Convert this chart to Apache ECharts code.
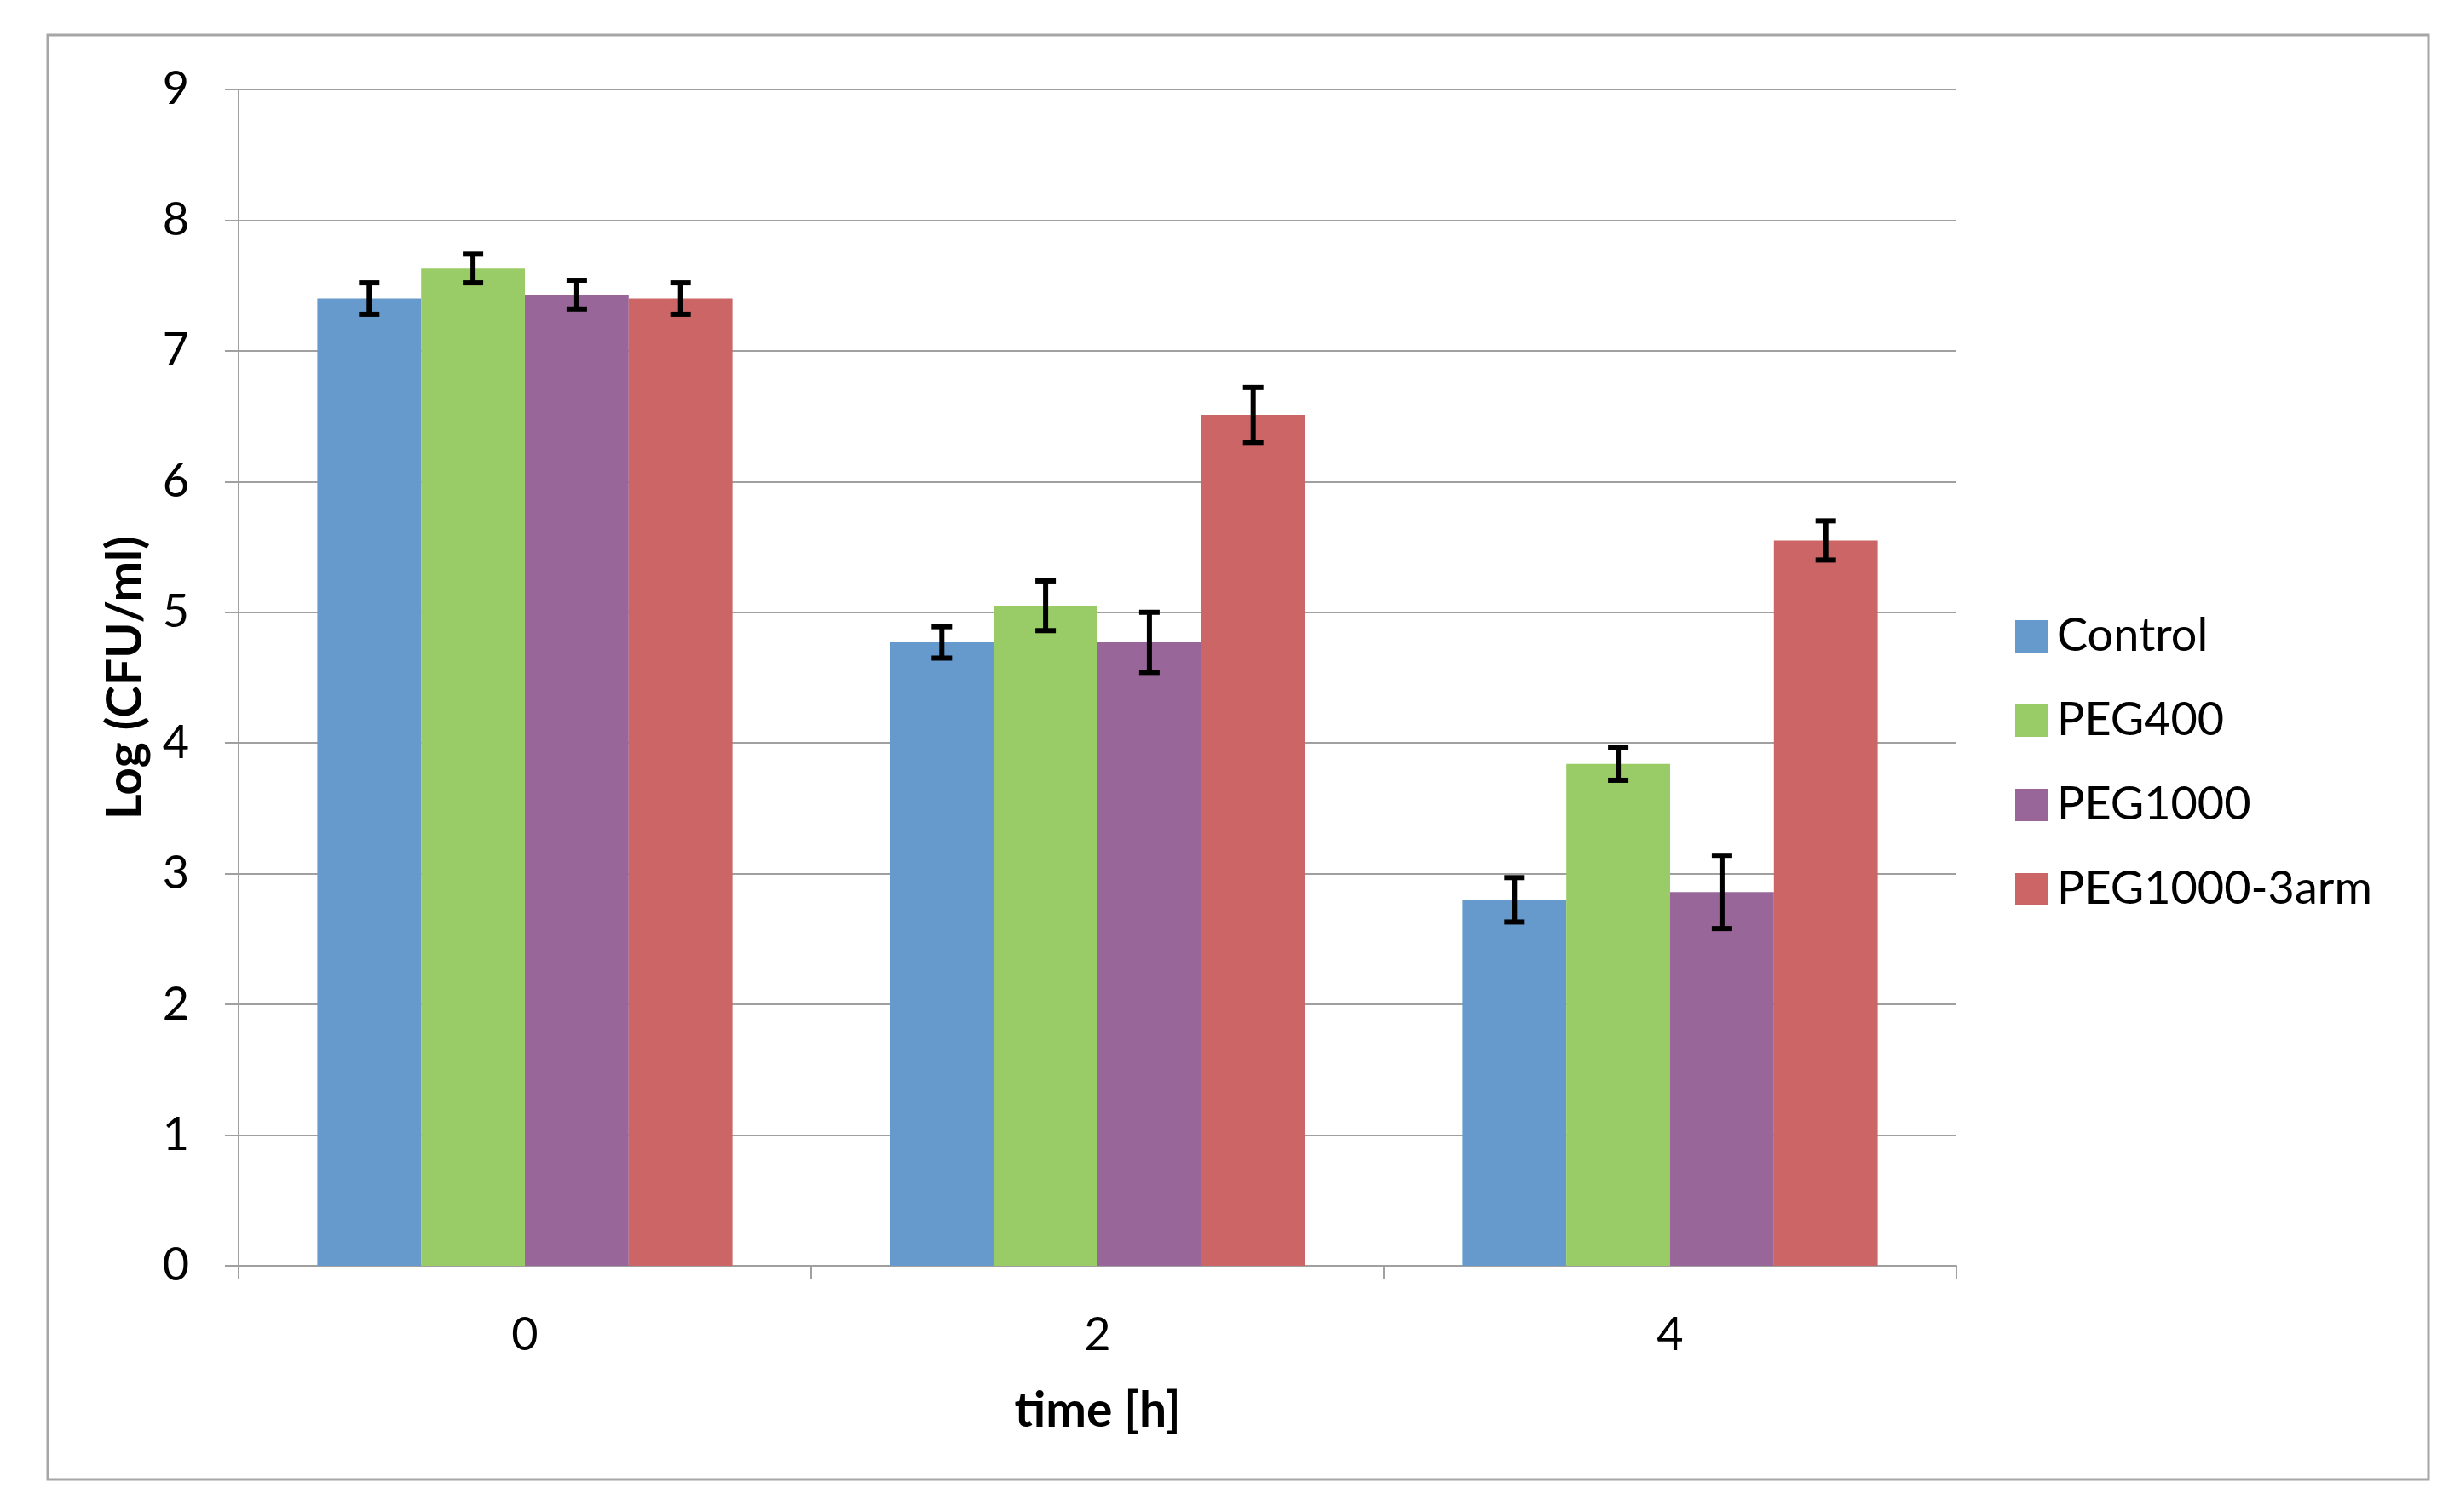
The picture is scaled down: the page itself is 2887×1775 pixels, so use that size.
<!DOCTYPE html>
<html>
<head>
<meta charset="utf-8">
<script src="https://cdn.jsdelivr.net/npm/echarts@6/dist/echarts.min.js"></script>
<style>
html,body{margin:0;padding:0;background:#fff;}
#chart{width:2887px;height:1775px;}
</style>
</head>
<body>
<div id="chart"></div>
<script>
// ---- data ----
var categories = ['0', '2', '4'];
var seriesNames = ['Control', 'PEG400', 'PEG1000', 'PEG1000-3arm'];
var control      = [7.40, 4.77, 2.80];
var peg400       = [7.63, 5.05, 3.84];
var peg1000      = [7.43, 4.77, 2.86];
var peg1000_3arm = [7.40, 6.51, 5.55];
var errControl      = [0.12, 0.12, 0.17];
var errPeg400       = [0.11, 0.19, 0.125];
var errPeg1000      = [0.11, 0.23, 0.28];
var errPeg1000_3arm = [0.12, 0.21, 0.15];
var yTicks = [0, 1, 2, 3, 4, 5, 6, 7, 8, 9];

var values = [control, peg400, peg1000, peg1000_3arm];
var errors = [errControl, errPeg400, errPeg1000, errPeg1000_3arm];
var colors = ['#6699cc', '#99cc66', '#996699', '#cc6666'];
var FONT = 'Lato';
var CAT_GAP = 0.275;

var chart = echarts.init(document.getElementById('chart'));

var series = [];
seriesNames.forEach(function (name, i) {
  series.push({
    name: name,
    type: 'bar',
    data: values[i],
    barGap: '0%',
    barCategoryGap: (CAT_GAP * 100) + '%',
    itemStyle: { color: colors[i] },
    emphasis: { disabled: true },
    z: 2
  });
});
seriesNames.forEach(function (name, i) {
  var d = values[i].map(function (v, k) { return [k, v, errors[i][k]]; });
  series.push({
    type: 'custom',
    name: name + ' error',
    data: d,
    z: 5,
    silent: true,
    renderItem: function (params, api) {
      var cat = api.value(0), v = api.value(1), e = api.value(2);
      var band = api.size([1, 0])[0];
      var groupW = band * (1 - CAT_GAP);
      var barW = groupW / seriesNames.length;
      var center = api.coord([cat, v]);
      var x = center[0] - groupW / 2 + barW * (i + 0.5);
      var top = api.coord([cat, v + e])[1];
      var bot = api.coord([cat, v - e])[1];
      var cap = 12;
      var st = { stroke: '#000', lineWidth: 6 };
      return {
        type: 'group',
        children: [
          { type: 'line', shape: { x1: x, y1: top, x2: x, y2: bot }, style: st },
          { type: 'line', shape: { x1: x - cap, y1: top, x2: x + cap, y2: top }, style: st },
          { type: 'line', shape: { x1: x - cap, y1: bot, x2: x + cap, y2: bot }, style: st }
        ]
      };
    }
  });
});

chart.setOption({
  animation: false,
  backgroundColor: '#ffffff',
  textStyle: { fontFamily: FONT },
  graphic: [{
    type: 'rect',
    shape: { x: 56, y: 41, width: 2794, height: 1696 },
    style: { fill: 'none', stroke: '#a6a6a6', lineWidth: 3 },
    silent: true,
    z: -1
  }],
  grid: { left: 280, right: 591, top: 105, bottom: 289 },
  legend: {
    orient: 'vertical',
    left: 2360,
    top: 714,
    data: seriesNames,
    icon: 'rect',
    itemWidth: 38,
    itemHeight: 38,
    itemGap: 43,
    selectedMode: false,
    textStyle: { fontFamily: FONT, fontSize: 54, color: '#000', lineHeight: 56, padding: [0, 0, 0, 6] }
  },
  xAxis: {
    type: 'category',
    data: categories,
    name: 'time [h]',
    nameLocation: 'middle',
    nameGap: 142,
    nameTextStyle: { fontFamily: FONT, fontSize: 57, fontWeight: 'bold', color: '#000' },
    axisLine: { lineStyle: { color: '#a0a0a0', width: 2 } },
    axisTick: { show: true, length: 16, alignWithLabel: false, lineStyle: { color: '#a0a0a0', width: 2 } },
    axisLabel: { fontFamily: FONT, fontSize: 54, color: '#000', margin: 55 },
    splitLine: { show: false }
  },
  yAxis: {
    type: 'value',
    min: yTicks[0],
    max: yTicks[yTicks.length - 1],
    interval: 1,
    name: 'Log (CFU/ml)',
    nameLocation: 'middle',
    nameGap: 104,
    nameTextStyle: { fontFamily: FONT, fontSize: 57, fontWeight: 'bold', color: '#000' },
    axisLine: { show: true, lineStyle: { color: '#a0a0a0', width: 2 } },
    axisTick: { show: true, length: 16, lineStyle: { color: '#a0a0a0', width: 2 } },
    axisLabel: { fontFamily: FONT, fontSize: 54, color: '#000', margin: 58 },
    splitLine: { show: true, lineStyle: { color: '#a0a0a0', width: 2 } }
  },
  series: series
});
</script>
</body>
</html>
